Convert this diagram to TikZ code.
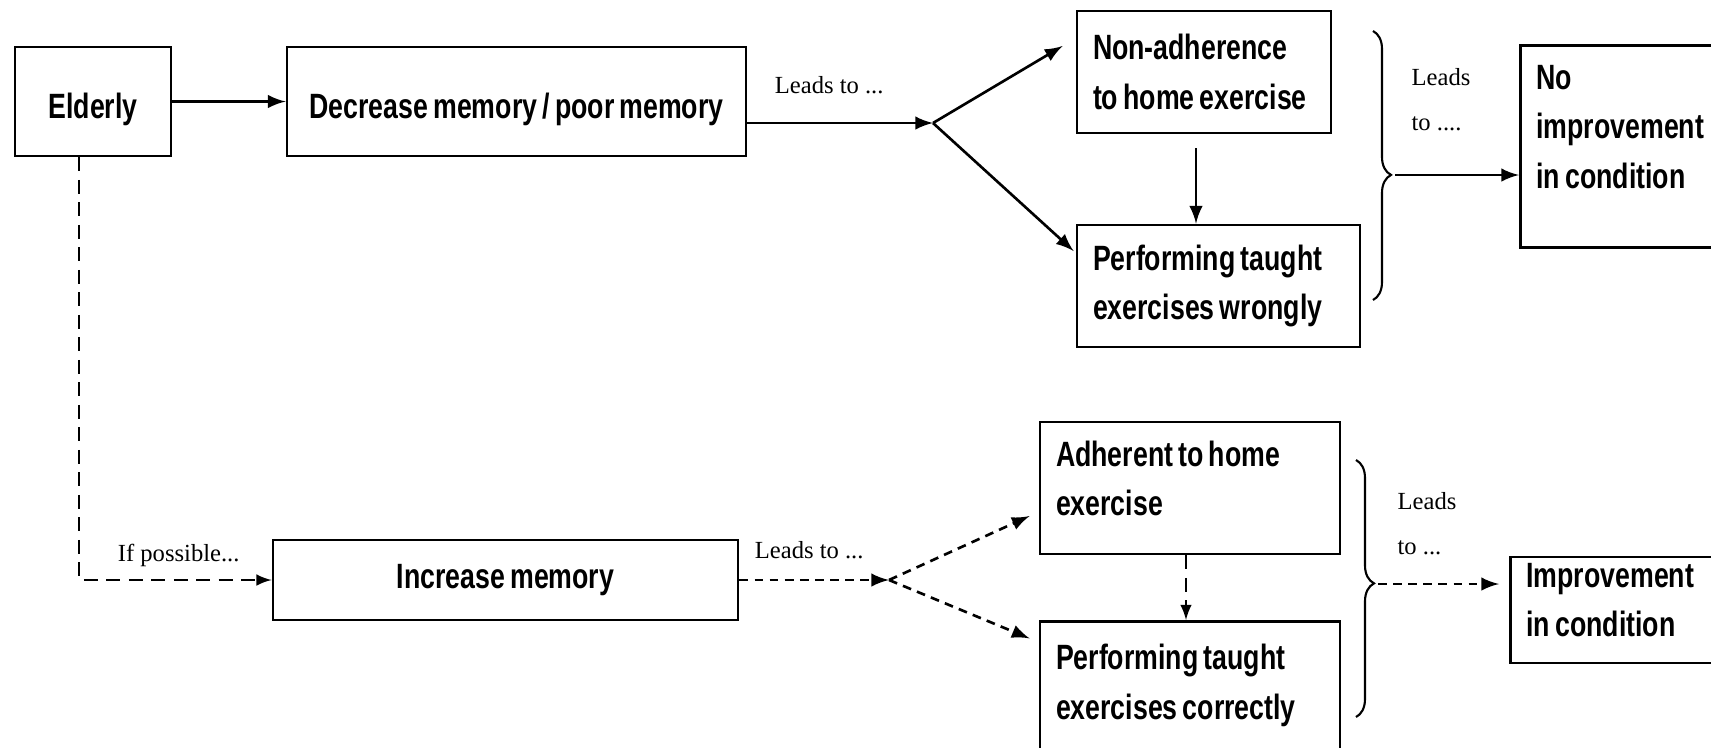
\documentclass[tikz,border=0pt]{standalone}
\usepackage{fontspec}
\setmainfont{Liberation Serif}
\newfontfamily\boxfont[FakeStretch=0.76, WordSpace=0.7]{Liberation Sans}
\usepackage{tikz}
\usetikzlibrary{decorations.pathreplacing}
\usetikzlibrary{positioning}
\usetikzlibrary{arrows,calc}
\hyphenpenalty=10000

\begin{document}
\begin{tikzpicture} [
                box/.style = {draw, line width=0.8pt, font=\boxfont\bfseries\fontsize{10}{14}\selectfont, inner xsep=0.16cm, inner ysep=0pt},
                leftbox/.style = {box, align=flush left},
                note/.style = {font=\fontsize{7}{12.8}\selectfont, align=flush left, inner sep=0pt},
                conn/.style = {-latex, line width=0.75pt},
                dconn/.style = {conn, dash pattern=on 2.5pt off 1.8pt},
                longdash/.style = {line width=0.5pt, dash pattern=on 4pt off 2.4pt},
                bracket/.style = {decorate, decoration={brace, amplitude=0.18cm, aspect=#1}, line width=0.6pt}
            ]
            \useasboundingbox (0,0) rectangle (17.11,-7.47);
            % top row
            \node (elderly) at (0.93,-1.015) [box, minimum width=1.56cm, minimum height=1.09cm, text height=0.41cm, text depth=0.07cm] {Elderly};
            \node (decrease) at (5.165,-1.015) [box, minimum width=4.59cm, minimum height=1.09cm, text height=0.41cm, text depth=0.07cm] {Decrease memory / poor memory};
            \node (nonadh) at (12.04,-0.72) [leftbox, text width=2.22cm, minimum height=1.22cm] {Non-adherence\\to home exercise};
            \node (wrong) at (12.185,-2.86) [leftbox, text width=2.51cm, minimum height=1.22cm] {Performing taught\\exercises wrongly};
            \node (noimpr) at (15.19,-0.44) [leftbox, anchor=north west, text width=1.8cm, minimum height=2.02cm] {No\\improvement\\in condition\\[-0.1cm]~};
            \coordinate (split1) at (9.33,-1.23);
            \draw [conn] (elderly) -- (decrease);
            \draw [conn] (decrease.east |- split1) -- node[note, above=0.28cm, xshift=-0.11cm] (lead1) {Leads to ...} (split1);
            \draw [conn] (split1) -- ([xshift=-0.13cm, yshift=0.26cm] nonadh.west);
            \draw [conn] (split1) -- ([xshift=-0.02cm, yshift=0.35cm] wrong.west);
            \draw [conn] ([xshift=-0.08cm, yshift=-0.14cm] nonadh.south) -- ([xshift=-0.08cm] nonadh.south |- wrong.north);
            \coordinate (br1top) at (13.73,-0.31);
            \coordinate (br1bot) at (13.73,-3.00);
            \draw [bracket=0.535] (br1top) -- (br1bot);
            \coordinate (tip1) at (13.95,-1.75);
            \draw [conn] (tip1) -- (noimpr.west |- tip1);
            \node (lead2) at (14.41,-1.00) [note] {Leads\\to ....};
            % bottom row
            \node (increase) at (5.055,-5.80) [box, minimum width=4.65cm, minimum height=0.80cm] {Increase memory};
            \node (adherent) at (11.90,-4.88) [leftbox, text width=2.68cm, minimum height=1.32cm] {Adherent to home\\exercise\\[-0.3cm]~};
            \node (right) at (11.90,-6.20) [leftbox, anchor=north, text width=2.68cm, minimum height=1.40cm] {Performing taught\\exercises correctly\\[-0.3cm]~};
            \node (impr) at (15.09,-6.10) [leftbox, anchor=west, text width=1.75cm, minimum height=1.06cm] {Improvement\\in condition\\[-0.29cm]~};
            \coordinate (split2) at (8.89,-5.80);
            \draw [longdash, -latex] ([xshift=-0.14cm] elderly.south) |- node[note, pos=0.79, above=0.12cm, xshift=-0.12cm] (ifposs) {If possible...} (increase.west);
            \draw [dconn] (increase.east) -- node[note, above=0.2cm, xshift=-0.05cm] (lead3) {Leads to ...} (split2);
            \draw [dconn] (split2) -- ([xshift=-0.09cm, yshift=-0.28cm] adherent.west);
            \draw [dconn] (split2) -- ([xshift=-0.09cm, yshift=0.53cm] right.west |- right.center);
            \draw [longdash, -latex] ([xshift=-0.04cm] adherent.south) -- ([xshift=-0.04cm] right.north);
            \coordinate (br2top) at (13.56,-4.60);
            \coordinate (br2bot) at (13.56,-7.17);
            \draw [bracket=0.48] (br2top) -- (br2bot);
            \coordinate (tip2) at (13.78,-5.84);
            \draw [dconn, shorten >=0.1cm] (tip2) -- (impr.west |- tip2);
            \node (lead4) at (14.27,-5.24) [note] {Leads\\to ...};
        \end{tikzpicture}
\end{document}
